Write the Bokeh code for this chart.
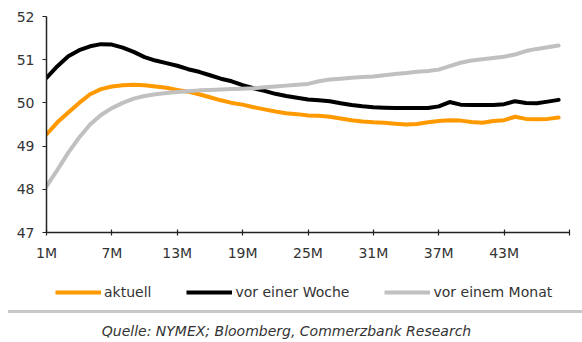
from bokeh.plotting import figure
from bokeh.models import Legend, LegendItem, FixedTicker, Range1d, Div
from bokeh.layouts import column
from bokeh.embed import file_html
from bokeh.resources import INLINE

months = list(range(1, 49))
tick_positions = [1, 7, 13, 19, 25, 31, 37, 43, 49]
tick_labels = ["1M", "7M", "13M", "19M", "25M", "31M", "37M", "43M", ""]
y_ticks = [47, 48, 49, 50, 51, 52]

aktuell = [49.27, 49.55, 49.78, 50.00, 50.20, 50.32, 50.38, 50.41, 50.42, 50.41,
           50.38, 50.35, 50.30, 50.26, 50.20, 50.13, 50.06, 50.00, 49.96, 49.90,
           49.85, 49.80, 49.76, 49.74, 49.71, 49.70, 49.68, 49.64, 49.60, 49.57,
           49.55, 49.54, 49.52, 49.50, 49.51, 49.55, 49.58, 49.60, 49.59, 49.56,
           49.54, 49.58, 49.60, 49.68, 49.63, 49.62, 49.63, 49.66]
vor_woche = [50.58, 50.85, 51.08, 51.22, 51.31, 51.36, 51.35, 51.28, 51.18, 51.06,
             50.98, 50.92, 50.86, 50.78, 50.72, 50.64, 50.56, 50.50, 50.41, 50.34,
             50.28, 50.21, 50.16, 50.12, 50.08, 50.06, 50.04, 49.99, 49.95, 49.92,
             49.90, 49.89, 49.88, 49.88, 49.88, 49.88, 49.92, 50.02, 49.96, 49.95,
             49.95, 49.95, 49.97, 50.04, 50.00, 49.99, 50.03, 50.07]
vor_monat = [48.07, 48.45, 48.85, 49.20, 49.50, 49.72, 49.88, 50.00, 50.10, 50.16,
             50.20, 50.23, 50.25, 50.27, 50.29, 50.30, 50.31, 50.32, 50.33, 50.34,
             50.36, 50.38, 50.40, 50.42, 50.44, 50.50, 50.54, 50.56, 50.58, 50.60,
             50.61, 50.64, 50.67, 50.69, 50.72, 50.74, 50.77, 50.85, 50.93, 50.98,
             51.01, 51.04, 51.07, 51.12, 51.20, 51.25, 51.29, 51.33]

series_names = ["aktuell", "vor einer Woche", "vor einem Monat"]
series_colors = ["#FF9900", "#000000", "#C0C0C0"]
source_text = "Quelle: NYMEX; Bloomberg, Commerzbank Research"

FONT = "DejaVu Sans"
TXT = "#333333"
series = [aktuell, vor_woche, vor_monat]

p = figure(width=582, height=268, x_range=Range1d(1, 49), y_range=Range1d(47, 52),
           output_backend="svg", toolbar_location=None,
           min_border_left=46, min_border_right=13, min_border_top=16, min_border_bottom=36)
p.outline_line_color = None
p.grid.visible = False

for ax in (p.xaxis[0], p.yaxis[0]):
    ax.axis_line_color = "#222222"
    ax.axis_line_width = 1.5
    ax.major_tick_line_color = "#222222"
    ax.major_tick_line_width = 1.2
    ax.minor_tick_line_color = None
    ax.major_label_text_font = FONT
    ax.major_label_text_font_size = "14px"
    ax.major_label_text_color = TXT

p.xaxis.ticker = FixedTicker(ticks=tick_positions)
p.xaxis.major_label_overrides = {t: l for t, l in zip(tick_positions, tick_labels)}
p.xaxis.major_tick_out = 3
p.xaxis.major_tick_in = 3
p.xaxis.major_label_standoff = 9

p.yaxis.ticker = FixedTicker(ticks=y_ticks)
p.yaxis.major_tick_out = 4
p.yaxis.major_tick_in = 0
p.yaxis.major_label_standoff = 8

for data, color in zip(series, series_colors):
    p.line(months, data, line_color=color, line_width=4,
           line_join="round", line_cap="round")

# legend strip below the chart; its line renderers carry the same series
# (their data fall outside this strip's ranges, so only the legend shows)
lg = figure(width=582, height=40, x_range=Range1d(-2, -1), y_range=Range1d(0, 1),
            output_backend="svg", toolbar_location=None,
            x_axis_location=None, y_axis_location=None,
            min_border_left=46, min_border_right=13, min_border_top=0, min_border_bottom=0)
lg.outline_line_color = None
lg.grid.visible = False
proxies = [lg.line(months, data, line_color=c, line_width=4)
           for data, c in zip(series, series_colors)]
legend = Legend(items=[LegendItem(label=n, renderers=[r]) for n, r in zip(series_names, proxies)],
                location=(9, 8), orientation="horizontal",
                border_line_color=None, background_fill_alpha=0,
                padding=0, margin=0, spacing=35,
                glyph_width=46, glyph_height=16, label_standoff=3,
                label_text_font=FONT, label_text_font_size="14px",
                label_text_color=TXT, label_height=16)
lg.add_layout(legend, "center")

footer_html = (
    '<div style="position:relative;width:582px;height:34px;">'
    '<div style="position:absolute;left:8px;right:0;top:2px;height:3px;background:#C8C8C8;"></div>'
    '<div style="position:absolute;left:0;width:573px;top:15px;text-align:center;'
    "font-family:'DejaVu Sans';font-style:italic;font-size:14px;line-height:16px;"
    'color:#333333;white-space:nowrap;">' + source_text + '</div>'
    '</div>'
)
footer = Div(text=footer_html, width=582, height=34, margin=0)

layout = column(p, lg, footer, spacing=0)
open("out.html", "w").write(file_html(layout, INLINE))
